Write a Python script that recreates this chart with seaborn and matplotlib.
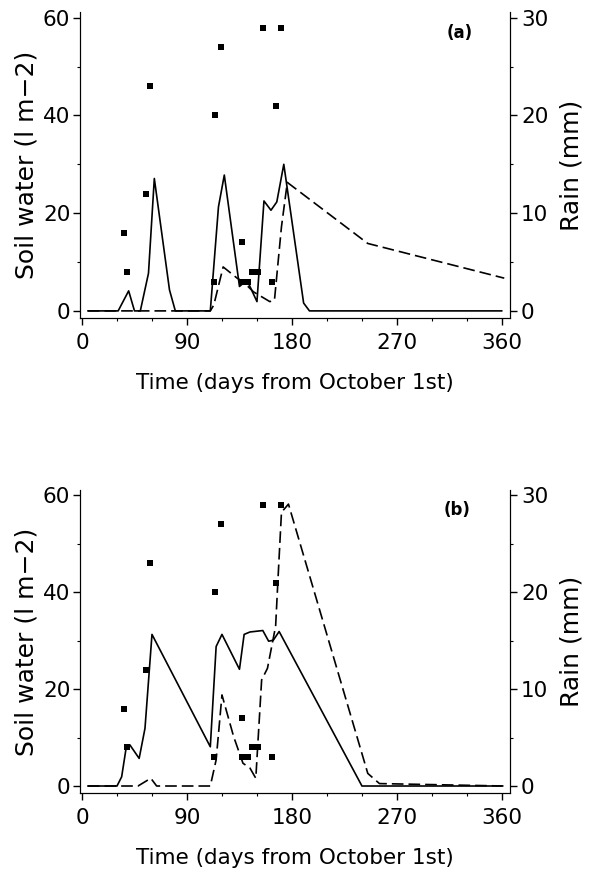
import numpy as np
import pandas as pd
import matplotlib
matplotlib.use("Agg")
import matplotlib.pyplot as plt
from matplotlib.ticker import MultipleLocator
import seaborn as sns

# rain events (days from Oct 1st, mm) - same in both panels
rain_day = [36, 39, 55, 58, 113, 114, 119, 137, 137, 140, 142, 146, 151, 155, 163, 166, 171]
rain_mm = [8, 4, 12, 23, 3, 20, 27, 7, 3, 3, 3, 4, 4, 29, 3, 21, 29]

# panel (a)
a_solid_day = [5, 31, 40, 45, 50, 57, 62, 75, 80, 110, 117, 122, 135, 140, 143, 150,
               156, 162, 167, 173, 190, 195, 360]
a_solid = [0, 0, 4.1, 0, 0, 7.7, 27.1, 4.3, 0, 0, 21.3, 27.8, 5, 6, 5.5, 1.9,
           22.5, 20.6, 22.3, 30, 1.6, 0, 0]
a_dash_day = [5, 110, 113, 121, 133, 138, 147, 154, 161, 165, 171, 176, 245, 362]
a_dash = [0, 0, 1.2, 9.0, 6.7, 6, 3.9, 2.9, 1.9, 2.2, 17.2, 26.3, 13.8, 6.7]

# panel (b)
b_solid_day = [5, 30, 34, 38, 41, 49, 54, 60, 110, 115, 120, 135, 139, 144, 155, 160,
               164, 169, 240, 360]
b_solid = [0, 0, 1.9, 8.1, 8.5, 5.7, 11.9, 31.3, 8.1, 28.8, 31.3, 24.1, 31.3, 31.8,
           32.1, 29.9, 30.1, 31.9, 0, 0]
b_dash_day = [5, 48, 59, 64, 110, 115, 120, 130, 138, 144, 149, 154, 159, 166, 168,
              171, 177, 245, 255, 362]
b_dash = [0, 0, 1.6, 0, 0, 5.4, 18.8, 10.2, 4.7, 3.7, 1.6, 21.9, 24.3, 33, 42.6,
          56.5, 58.2, 2.6, 0.5, 0]

sns.set_style("ticks")
plt.rcParams['font.family'] = ['DejaVu Sans']
for k in ['text.color', 'axes.labelcolor', 'xtick.color', 'ytick.color', 'axes.edgecolor']:
    plt.rcParams[k] = 'black'
TICK_FS = 15.5
XLAB_FS = 15.5
YLAB_FS = 18


def draw_panel(fig, rect, s_day, s_val, d_day, d_val, tag, tag_xy):
    ax = fig.add_axes(rect)
    sns.lineplot(x=s_day, y=s_val, ax=ax, color='black', lw=1.2)
    sns.lineplot(x=d_day, y=d_val, ax=ax, color='black', lw=1.2)
    ax.lines[-1].set_dashes((7, 3))
    ax.set_xlim(-1.7, 366.9)
    ax.set_ylim(-1.43, 61.1)
    ax.set_xticks([0, 90, 180, 270, 360])
    ax.xaxis.set_minor_locator(MultipleLocator(30))
    ax.set_yticks([0, 20, 40, 60])
    ax.yaxis.set_minor_locator(MultipleLocator(10))
    ax.tick_params(which='major', length=5, width=1, labelsize=TICK_FS)
    ax.tick_params(axis='x', which='major', pad=6)
    ax.tick_params(axis='y', which='major', pad=2)
    ax.tick_params(which='minor', length=2.5, width=0.8)
    ax.set_xlabel('Time (days from October 1st)', fontsize=XLAB_FS, labelpad=14)
    ax.set_ylabel('Soil water (l m\u22122)', fontsize=YLAB_FS, labelpad=3)
    ax.spines['top'].set_visible(False)

    ax_r = ax.twinx()
    sns.scatterplot(x=rain_day, y=rain_mm, ax=ax_r, marker='s', color='black',
                    s=15, linewidth=0)
    ax_r.set_ylim(-1.43 / 2, 61.1 / 2)
    ax_r.set_yticks([0, 10, 20, 30])
    ax_r.yaxis.set_minor_locator(MultipleLocator(5))
    ax_r.tick_params(which='major', length=5, width=1, labelsize=TICK_FS, pad=3)
    ax_r.tick_params(which='minor', length=2.5, width=0.8)
    ax_r.set_ylabel('Rain (mm)', fontsize=YLAB_FS, labelpad=8)
    ax_r.spines['top'].set_visible(False)
    ax.text(tag_xy[0], tag_xy[1], tag, transform=ax.transAxes, fontsize=12,
            fontweight='bold', ha='center', va='center')
    return ax


fig = plt.figure(figsize=(5.98, 8.83), dpi=100)
draw_panel(fig, [0.1338, 0.640, 0.719, 0.346], a_solid_day, a_solid,
           a_dash_day, a_dash, '(a)', (0.884, 0.931))
draw_panel(fig, [0.1338, 0.102, 0.719, 0.343], b_solid_day, b_solid,
           b_dash_day, b_dash, '(b)', (0.877, 0.934))

fig.savefig('out.png', dpi=100)
